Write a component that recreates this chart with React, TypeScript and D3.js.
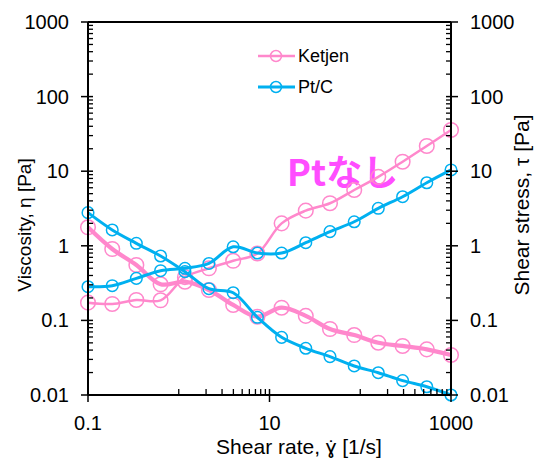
import React from "react";
import * as d3 from "d3";

// ---- data ----
const shearRate = [0.1, 0.185, 0.341, 0.631, 1.17, 2.15, 3.98, 7.36, 13.6, 25.1, 46.4, 85.8, 158, 293, 541, 1000];

const ketjenViscosity = [1.77, 0.906, 0.553, 0.305, 0.33, 0.256, 0.161, 0.112, 0.148, 0.115, 0.0767, 0.0637, 0.0502, 0.0454, 0.0409, 0.0344];
const ketjenStress = [0.173, 0.166, 0.188, 0.186, 0.38, 0.5, 0.63, 0.79, 2.0, 2.96, 3.72, 5.6, 8.4, 13.4, 21.8, 35.7];
const ptcViscosity = [2.78, 1.63, 1.08, 0.73, 0.45, 0.266, 0.235, 0.11, 0.0593, 0.0423, 0.0327, 0.0245, 0.0199, 0.0156, 0.0129, 0.01];
const ptcStress = [0.283, 0.292, 0.366, 0.464, 0.5, 0.58, 0.97, 0.8, 0.8, 1.1, 1.55, 2.1, 3.18, 4.55, 7.0, 10.4];

const xMajorTicks = [0.1, 10, 1000];
const xMajorLabels = ["0.1", "10", "1000"];
const xMinorTicks = [1, 2, 3, 4, 5, 6, 7, 8, 9, 100, 200, 300, 400, 500, 600, 700, 800, 900];
const yMajorTicks = [0.01, 0.1, 1, 10, 100, 1000];
const yMajorLabels = ["0.01", "0.1", "1", "10", "100", "1000"];

const seriesNames = ["Ketjen", "Pt/C"];
const xTitle = "Shear rate, \u0263\u0307 [1/s]";
const yTitleLeft = "Viscosity, \u03b7 [Pa]";
const yTitleRight = "Shear stress, \u03c4  [Pa]";
const annotation = "Ptなし";

const PINK = "#FF88CC";
const BLUE = "#00B0F0";
const MAGENTA = "#FF4DFF";
const FONT = "'Liberation Sans', Arial, sans-serif";

export default function App() {
  const W = 536, H = 460;
  const L = 88, R = 451, T = 22, B = 395;
  const x = d3.scaleLog().domain([0.1, 1000]).range([L, R]);
  const y = d3.scaleLog().domain([0.01, 1000]).range([B, T]);

  const yMinor: number[] = [];
  for (let e = -2; e < 3; e++) for (let k = 2; k <= 9; k++) yMinor.push(k * Math.pow(10, e));

  const line = d3
    .line<number>()
    .x((_, i) => x(shearRate[i]))
    .y((d) => y(d))
    .curve(d3.curveCatmullRom.alpha(0.5));

  const series = [
    { vals: ketjenStress, color: PINK, lw: 2.5, r: 7.3 },
    { vals: ketjenViscosity, color: PINK, lw: 4.3, r: 7.3 },
    { vals: ptcStress, color: BLUE, lw: 3, r: 5.8 },
    { vals: ptcViscosity, color: BLUE, lw: 3, r: 5.8 },
  ];

  return (
    <svg width={W} height={H} style={{ position: "absolute", left: 0, top: 0, background: "#fff" }}>
      <rect width={W} height={H} fill="#fff" />
      <text x={287} y={186} fill={MAGENTA} fontFamily="'Noto Sans CJK JP', sans-serif" fontWeight="bold" fontSize={36}>
        {annotation}
      </text>

      {series.map((s, si) => (
        <g key={si}>
          <path d={line(s.vals) || ""} fill="none" stroke={s.color} strokeWidth={s.lw} />
          {s.vals.map((v, i) => (
            <circle key={i} cx={x(shearRate[i])} cy={y(v)} r={s.r} fill="none" stroke={s.color} strokeWidth={1.5} />
          ))}
        </g>
      ))}

      {/* frame */}
      <g stroke="#000" fill="none">
        <line x1={L} x2={R} y1={T} y2={T} strokeWidth={2} />
        <line x1={L} x2={R} y1={B} y2={B} strokeWidth={2} />
        <line x1={L} x2={L} y1={T} y2={B} strokeWidth={2} />
        <line x1={R} x2={R} y1={T} y2={B} strokeWidth={2} />
        {yMinor.map((v, i) => (
          <g key={i}>
            <line x1={L} x2={L + 5} y1={y(v)} y2={y(v)} strokeWidth={1.3} />
            <line x1={R - 5} x2={R} y1={y(v)} y2={y(v)} strokeWidth={1.3} />
          </g>
        ))}
        {yMajorTicks.map((v, i) => (
          <g key={i}>
            <line x1={L - 7} x2={L + 5} y1={y(v)} y2={y(v)} strokeWidth={1.5} />
            <line x1={R - 5} x2={R + 7} y1={y(v)} y2={y(v)} strokeWidth={1.5} />
          </g>
        ))}
        {xMinorTicks.map((v, i) => (
          <line key={i} x1={x(v)} x2={x(v)} y1={B} y2={B - 6} strokeWidth={1.3} />
        ))}
        {xMajorTicks.map((v, i) => (
          <line key={i} x1={x(v)} x2={x(v)} y1={B + 7} y2={B - 6} strokeWidth={1.5} />
        ))}
      </g>

      {/* tick labels */}
      <g fontFamily={FONT} fontSize={20} fill="#000">
        {yMajorTicks.map((v, i) => (
          <text key={"l" + i} x={69} y={y(v)} dy="0.35em" textAnchor="end">
            {yMajorLabels[i]}
          </text>
        ))}
        {yMajorTicks.map((v, i) => (
          <text key={"r" + i} x={470} y={y(v)} dy="0.35em" textAnchor="start">
            {yMajorLabels[i]}
          </text>
        ))}
        {xMajorTicks.map((v, i) => (
          <text key={"x" + i} x={x(v)} y={430} textAnchor="middle">
            {xMajorLabels[i]}
          </text>
        ))}
      </g>

      {/* axis titles */}
      <g fontFamily={FONT} fill="#000">
        <text x={299} y={454} textAnchor="middle" fontSize={21}>{xTitle}</text>
        <text transform={`translate(31,225) rotate(-90)`} textAnchor="middle" fontSize={19}>{yTitleLeft}</text>
        <text transform={`translate(529,205) rotate(-90)`} textAnchor="middle" fontSize={21}>{yTitleRight}</text>
      </g>

      {/* legend */}
      <g fontFamily={FONT} fontSize={18} fill="#000">
        {seriesNames.map((n, i) => {
          const cy = 56 + i * 31;
          const c = i === 0 ? PINK : BLUE;
          return (
            <g key={n}>
              <line x1={258} x2={295} y1={cy} y2={cy} stroke={c} strokeWidth={i === 0 ? 2.5 : 3} />
              <circle cx={276} cy={cy} r={5.5} fill="none" stroke={c} strokeWidth={1.5} />
              <text x={298} y={cy} dy="0.36em">{n}</text>
            </g>
          );
        })}
      </g>
    </svg>
  );
}
